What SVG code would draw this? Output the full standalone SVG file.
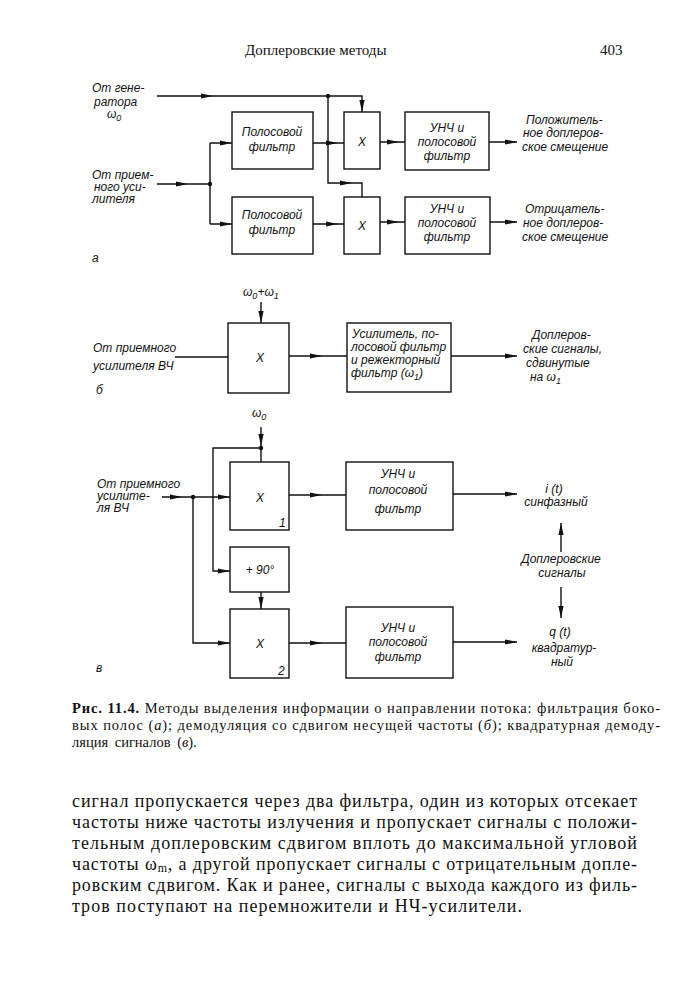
<svg xmlns="http://www.w3.org/2000/svg" width="691" height="1000" viewBox="0 0 691 1000">
<style>
.bx{fill:none;stroke:#111;stroke-width:1.4}
.ln{fill:none;stroke:#111;stroke-width:1.4}
.dg{font-family:"Liberation Sans","DejaVu Sans",sans-serif;font-style:italic;font-size:12px;fill:#111}
.c{text-anchor:middle}
.sr{font-family:"Liberation Serif","DejaVu Serif",serif;fill:#111}
.hd{font-size:15px}
.cp{font-size:14.5px}
.bd{font-size:18px}
.dot{fill:#111}
</style>
<defs>
<path id="ah" d="M0,0 L-12,-2.6 L-12,2.6 Z" fill="#111"/>
</defs>
<text class="sr hd" x="245" y="55">Доплеровские  методы</text>
<text class="sr hd" x="600" y="55">403</text>

<g id="connectors">
<!-- a -->
<path class="ln" d="M157,96 H362 V112"/>
<path class="ln" d="M328,96 V183 H362 V197"/>
<path class="ln" d="M157,184 H210"/>
<path class="ln" d="M210,143 V224"/>
<path class="ln" d="M210,143 H232 M210,224 H232"/>
<path class="ln" d="M313,143 H344 M313,224 H344"/>
<path class="ln" d="M380,142 H405 M380,222 H405"/>
<path class="ln" d="M489,142 H517 M490,222 H517"/>
<circle class="dot" cx="328" cy="96" r="2.2"/>
<circle class="dot" cx="210" cy="184" r="2.2"/>
<use href="#ah" transform="translate(213,96)"/>
<use href="#ah" transform="translate(362,112) rotate(90)"/>
<use href="#ah" transform="translate(188,184)"/>
<use href="#ah" transform="translate(232,143)"/>
<use href="#ah" transform="translate(232,224)"/>
<use href="#ah" transform="translate(338,143)"/>
<use href="#ah" transform="translate(338,224)"/>
<use href="#ah" transform="translate(352,183)"/>
<use href="#ah" transform="translate(399,142)"/>
<use href="#ah" transform="translate(399,222)"/>
<use href="#ah" transform="translate(517,142)"/>
<use href="#ah" transform="translate(517,222)"/>
<!-- б -->
<path class="ln" d="M175,357 H228"/>
<path class="ln" d="M261,302 V323"/>
<path class="ln" d="M289,356 H347"/>
<path class="ln" d="M451,356 H517"/>
<use href="#ah" transform="translate(261,323) rotate(90)"/>
<use href="#ah" transform="translate(322,356)"/>
<use href="#ah" transform="translate(517,356)"/>
<!-- в -->
<path class="ln" d="M261,427 V462"/>
<path class="ln" d="M261,448 H213 V571 H230"/>
<path class="ln" d="M162,497 H230"/>
<path class="ln" d="M193,497 V643 H230"/>
<path class="ln" d="M261,592 V609"/>
<path class="ln" d="M289,495 H346 M289,643 H346"/>
<path class="ln" d="M453,494 H517 M453,642 H517"/>
<path class="ln" d="M561,552 V523 M561,587 V618"/>
<circle class="dot" cx="261" cy="448" r="2.2"/>
<circle class="dot" cx="193" cy="497" r="2.2"/>
<use href="#ah" transform="translate(261,446) rotate(90)"/>
<use href="#ah" transform="translate(182,497)"/>
<use href="#ah" transform="translate(230,497)"/>
<use href="#ah" transform="translate(230,571)"/>
<use href="#ah" transform="translate(230,643)"/>
<use href="#ah" transform="translate(261,609) rotate(90)"/>
<use href="#ah" transform="translate(322,495)"/>
<use href="#ah" transform="translate(322,643)"/>
<use href="#ah" transform="translate(517,494)"/>
<use href="#ah" transform="translate(517,642)"/>
<use href="#ah" transform="translate(561,523) rotate(-90)"/>
<use href="#ah" transform="translate(561,618) rotate(90)"/>
</g>

<!-- part a -->
<g id="a-gen"><text class="dg" x="92" y="92">От гене-</text><text class="dg" x="94" y="106">ратора</text><text class="dg" x="107" y="118">ω<tspan font-size="9" dy="3">0</tspan></text></g>
<g id="a-in"><text class="dg" x="92" y="179">От прием-</text><text class="dg" x="94" y="191">ного уси-</text><text class="dg" x="92" y="203">лителя</text></g>
<g id="a-f1"><rect class="bx" x="232" y="112" width="81" height="57"/><text class="dg c" x="272" y="136">Полосовой</text><text class="dg c" x="272" y="151">фильтр</text></g>
<g id="a-f2"><rect class="bx" x="232" y="197" width="81" height="57"/><text class="dg c" x="272" y="219">Полосовой</text><text class="dg c" x="272" y="234">фильтр</text></g>
<g id="a-x1"><rect class="bx" x="344" y="112" width="36" height="57"/><text class="dg c" x="362" y="146">X</text></g>
<g id="a-x2"><rect class="bx" x="344" y="197" width="36" height="57"/><text class="dg c" x="362" y="230">X</text></g>
<g id="a-u1"><rect class="bx" x="405" y="112" width="84" height="58"/><text class="dg c" x="447" y="132">УНЧ и</text><text class="dg c" x="447" y="146">полосовой</text><text class="dg c" x="447" y="160">фильтр</text></g>
<g id="a-u2"><rect class="bx" x="405" y="197" width="85" height="57"/><text class="dg c" x="447" y="213">УНЧ и</text><text class="dg c" x="447" y="227">полосовой</text><text class="dg c" x="447" y="241">фильтр</text></g>
<g id="a-out1"><text class="dg" x="526" y="124">Положитель-</text><text class="dg" x="523" y="137">ное доплеров-</text><text class="dg" x="522" y="151">ское смещение</text></g>
<g id="a-out2"><text class="dg" x="525" y="213">Отрицатель-</text><text class="dg" x="523" y="227">ное доплеров-</text><text class="dg" x="522" y="241">ское смещение</text></g>
<text class="dg" x="92" y="262" font-size="13">а</text>

<!-- part б -->
<g id="b-ref"><text class="dg" x="243" y="296">ω<tspan font-size="9" dy="3">0</tspan><tspan dy="-3">+ω</tspan><tspan font-size="9" dy="3">1</tspan></text></g>
<g id="b-in"><text class="dg" x="93" y="352">От приемного</text><text class="dg" x="93" y="370">усилителя ВЧ</text></g>
<g id="b-x"><rect class="bx" x="228" y="323" width="61" height="70"/><text class="dg c" x="260" y="362">X</text></g>
<g id="b-f"><rect class="bx" x="347" y="323" width="104" height="69"/><text class="dg" x="352" y="338">Усилитель, по-</text><text class="dg" x="351" y="351">лосовой фильтр</text><text class="dg" x="351" y="364">и режекторный</text><text class="dg" x="351" y="377">фильтр (ω<tspan font-size="9" dy="3">1</tspan><tspan dy="-3">)</tspan></text></g>
<g id="b-out"><text class="dg" x="532" y="339">Доплеров-</text><text class="dg" x="523" y="353">ские сигналы,</text><text class="dg" x="526" y="367">сдвинутые</text><text class="dg" x="530" y="381">на  ω<tspan font-size="9" dy="3">1</tspan></text></g>
<text class="dg" x="96" y="394" font-size="13">б</text>

<!-- part в -->
<g id="c-ref"><text class="dg" x="252" y="417">ω<tspan font-size="9" dy="3">0</tspan></text></g>
<g id="c-in"><text class="dg" x="97" y="488">От приемного</text><text class="dg" x="97" y="500">усилите-</text><text class="dg" x="97" y="512">ля ВЧ</text></g>
<g id="c-x1"><rect class="bx" x="230" y="462" width="59" height="68"/><text class="dg c" x="260" y="502">X</text><text class="dg" x="279" y="527">1</text></g>
<g id="c-ph"><rect class="bx" x="230" y="547" width="59" height="45"/><text class="dg c" x="260" y="574">+ 90°</text></g>
<g id="c-x2"><rect class="bx" x="230" y="609" width="59" height="69"/><text class="dg c" x="260" y="648">X</text><text class="dg" x="278" y="675">2</text></g>
<g id="c-u1"><rect class="bx" x="346" y="462" width="107" height="68"/><text class="dg c" x="398" y="478">УНЧ и</text><text class="dg c" x="398" y="494">полосовой</text><text class="dg c" x="398" y="513">фильтр</text></g>
<g id="c-u2"><rect class="bx" x="346" y="607" width="107" height="71"/><text class="dg c" x="398" y="632">УНЧ и</text><text class="dg c" x="398" y="646">полосовой</text><text class="dg c" x="398" y="661">фильтр</text></g>
<g id="c-i"><text class="dg c" x="554" y="493">i (t)</text><text class="dg c" x="556" y="506">синфазный</text></g>
<g id="c-d"><text class="dg c" x="561" y="563">Доплеровские</text><text class="dg c" x="562" y="577">сигналы</text></g>
<g id="c-q"><text class="dg c" x="560" y="636">q (t)</text><text class="dg c" x="564" y="652">квадратур-</text><text class="dg c" x="562" y="666">ный</text></g>
<text class="dg" x="96" y="672" font-size="13">в</text>

<!-- caption -->
<text class="sr cp" x="72" y="713" textLength="588"><tspan font-weight="bold">Рис. 11.4.</tspan> Методы выделения информации о направлении потока: фильтрация боко-</text>
<text class="sr cp" x="72" y="730" textLength="588">вых полос (<tspan font-style="italic">а</tspan>); демодуляция со сдвигом несущей частоты (<tspan font-style="italic">б</tspan>); квадратурная демоду-</text>
<text class="sr cp" x="72" y="747" word-spacing="3">ляция сигналов (<tspan font-style="italic">в</tspan>).</text>

<!-- body -->
<text class="sr bd" x="72" y="807" textLength="565">сигнал пропускается через два фильтра, один из которых отсекает</text>
<text class="sr bd" x="72" y="828" textLength="565">частоты ниже частоты излучения и пропускает сигналы с положи-</text>
<text class="sr bd" x="72" y="849" textLength="565">тельным доплеровским сдвигом вплоть до максимальной угловой</text>
<text class="sr bd" x="72" y="870" textLength="565">частоты ω<tspan font-size="12" dy="2">m</tspan><tspan dy="-2">, а другой пропускает сигналы с отрицательным допле-</tspan></text>
<text class="sr bd" x="72" y="891" textLength="565">ровским сдвигом. Как и ранее, сигналы с выхода каждого из филь-</text>
<text class="sr bd" x="72" y="912" textLength="450">тров поступают на перемножители и НЧ-усилители.</text>
</svg>
